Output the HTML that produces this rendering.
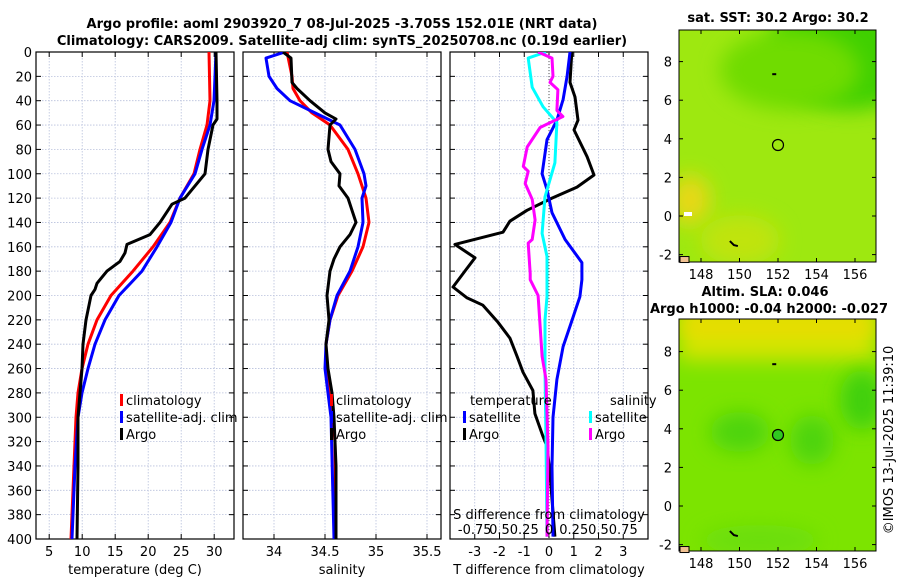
<!DOCTYPE html>
<html><head><meta charset="utf-8"><style>
html,body{margin:0;padding:0;background:#fff;}
svg{display:block;font-family:"DejaVu Sans","Liberation Sans",sans-serif;}
</style></head><body>
<svg id="fig" width="900" height="580" viewBox="0 0 900 580">
<defs>
<filter id="blur1" x="-50%" y="-50%" width="200%" height="200%"><feGaussianBlur stdDeviation="10"/></filter>
<clipPath id="c1"><rect x="36" y="52" width="198" height="487"/></clipPath>
<clipPath id="c2"><rect x="243" y="52" width="198" height="487"/></clipPath>
<clipPath id="c3"><rect x="450" y="52" width="198" height="487"/></clipPath>
<clipPath id="m1"><rect x="679" y="30" width="197" height="232"/></clipPath>
<clipPath id="m2"><rect x="679" y="319" width="197" height="232"/></clipPath>
</defs>
<text x="342" y="28" text-anchor="middle" font-size="13" font-weight="bold">Argo profile: aoml 2903920_7 08-Jul-2025 -3.705S 152.01E (NRT data)</text>
<text x="342" y="45" text-anchor="middle" font-size="13" font-weight="bold">Climatology: CARS2009. Satellite-adj clim: synTS_20250708.nc (0.19d earlier)</text>

<g clip-path="url(#m1)">
<rect x="679" y="30" width="197" height="232" fill="#9ee810"/>
<ellipse cx="850" cy="50" rx="80" ry="60" fill="#3fd000" filter="url(#blur1)"/>
<ellipse cx="790" cy="70" rx="70" ry="40" fill="#70dc04" filter="url(#blur1)"/>
<ellipse cx="690" cy="200" rx="20" ry="25" fill="#e8d818" filter="url(#blur1)"/>
<ellipse cx="740" cy="240" rx="40" ry="25" fill="#c0e408" filter="url(#blur1)"/>
<rect x="684" y="212" width="8" height="4" fill="#fff"/>
<circle cx="778" cy="145" r="5.5" fill="none" stroke="#000" stroke-width="1.2"/>
</g>
<rect x="679" y="30" width="197" height="232" fill="none" stroke="#000" stroke-width="1"/>
<text x="778" y="22" text-anchor="middle" font-size="13" font-weight="bold">sat. SST: 30.2 Argo: 30.2</text>

<g clip-path="url(#m2)">
<rect x="679" y="319" width="197" height="232" fill="#7ce400"/>
<rect x="679" y="300" width="197" height="60" fill="#d8e400" filter="url(#blur1)"/>
<rect x="679" y="319" width="197" height="14" fill="#f0d800" filter="url(#blur1)"/>
<ellipse cx="740" cy="432" rx="30" ry="20" fill="#4ed410" filter="url(#blur1)"/>
<ellipse cx="812" cy="440" rx="22" ry="25" fill="#4ed410" filter="url(#blur1)"/>
<ellipse cx="862" cy="400" rx="22" ry="30" fill="#40d010" filter="url(#blur1)"/>
<ellipse cx="760" cy="540" rx="60" ry="15" fill="#6ade08" filter="url(#blur1)"/>
<circle cx="778" cy="435" r="5.5" fill="#30c820" stroke="#000" stroke-width="1.2"/>
</g>
<rect x="679" y="319" width="197" height="232" fill="none" stroke="#000" stroke-width="1"/>
<text x="765" y="296" text-anchor="middle" font-size="13" font-weight="bold">Altim. SLA: 0.046</text>
<text x="769" y="313" text-anchor="middle" font-size="13" font-weight="bold">Argo h1000: -0.04 h2000: -0.027</text>
<text transform="translate(893,440) rotate(-90)" text-anchor="middle" font-size="13">©IMOS 13-Jul-2025 11:39:10</text>
<g id="dyn"></g>
</svg>
<script>
const depthTicks=[0,20,40,60,80,100,120,140,160,180,200,220,240,260,280,300,320,340,360,380,400];
const tTicks=[5,10,15,20,25,30];
const sTicks=[34,34.5,35,35.5];
const dTicks=[-3,-2,-1,0,1,2,3];
const sdTickLabels=["-0.75","0.5","0.25","0","0.25","0.5","0.75"];
const tClimDepth=[0,40,60,80,100,120,140,160,180,200,220,240,260,280,300,340,400];
const tClim=[29.21,29.36,28.91,27.85,26.94,24.82,23.30,20.73,17.70,14.36,12.24,10.88,9.97,9.36,9.06,8.76,8.30];
const tSat=[30.27,29.97,29.36,28.15,27.09,24.82,23.45,21.33,19.06,15.58,13.45,11.94,10.88,9.97,9.36,8.91,8.45];
const tArgoDepth=[0,40,55,60,80,100,110,120,125,130,140,150,158,165,172,180,190,195,200,220,240,260,280,300,340,400];
const tArgo=[30.27,30.42,30.42,29.82,29.06,28.61,27.09,25.58,23.61,23.0,21.79,20.27,16.79,16.48,15.73,13.76,12.24,11.94,11.33,10.58,10.12,9.97,9.67,9.36,9.36,9.21];
const sClimDepth=[0,20,30,40,50,60,80,100,120,140,160,180,200,220,240,260,280,300,320,400];
const sClim=[34.127,34.176,34.186,34.255,34.373,34.549,34.725,34.824,34.902,34.931,34.873,34.765,34.627,34.549,34.510,34.510,34.539,34.578,34.598,34.608];
const sSatDepth=[0,5,20,30,40,50,60,80,100,110,120,140,160,180,200,220,240,260,280,300,400];
const sSat=[34.108,33.922,33.951,34.029,34.157,34.402,34.647,34.794,34.882,34.902,34.863,34.873,34.824,34.745,34.618,34.549,34.510,34.500,34.529,34.559,34.588];
const sArgoDepth=[0,5,25,30,40,50,55,60,70,80,90,100,110,120,130,140,150,160,170,180,200,220,240,260,280,300,340,400];
const sArgo=[34.088,34.167,34.176,34.225,34.353,34.500,34.608,34.549,34.539,34.529,34.559,34.647,34.637,34.725,34.765,34.804,34.745,34.647,34.588,34.549,34.520,34.539,34.510,34.529,34.569,34.588,34.608,34.608];
const dtArgoDepth=[0,25,37,56,64,86,101,111,120,130,139,148,158,169,180,193,202,208,222,235,250,263,278,297,316,324,346,398];
const dtArgo=[0.92,0.85,1.05,1.17,1.01,1.54,1.82,1.13,0.12,-0.89,-1.58,-1.86,-3.80,-2.99,-3.40,-3.88,-3.31,-2.67,-2.06,-1.58,-1.29,-1.05,-0.65,-0.57,-0.24,-0.08,0.04,0.24];
const dtSatDepth=[0,20,39,56,72,100,113,132,154,173,187,201,218,242,269,300,341,398];
const dtSat=[0.85,0.73,0.57,0.32,-0.08,-0.28,-0.08,0.12,0.65,1.33,1.33,1.25,0.97,0.57,0.32,0.16,0.12,0.16];
const dsSatDepth=[0,5,29,45,58,91,119,149,168,187,201,220,261,319,398];
const dsSat=[-0.03,-0.21,-0.17,-0.06,0.08,0.06,-0.04,-0.07,-0.02,-0.02,-0.02,-0.04,-0.04,-0.03,-0.02];
const dsArgoDepth=[0,5,20,25,31,48,53,62,78,94,98,108,121,138,154,157,182,187,200,250,269,324,398];
const dsArgo=[-0.11,0.03,0.04,0.01,0.09,0.08,0.14,-0.09,-0.22,-0.26,-0.21,-0.24,-0.17,-0.14,-0.17,-0.21,-0.19,-0.19,-0.11,-0.07,-0.03,-0.01,-0.02];
const lonTicks=[148,150,152,154,156];
const latTicks=[-2,0,2,4,6,8];

const Y0=52,Y1=539;
const yD=d=>Y0+d/400*(Y1-Y0);
const xT=t=>36+(t-3)/30*198;
const xS=s=>274+(s-34)*102;
const xDT=t=>549+t*24.75;
const xDS=s=>549+s*99;
const lonX=l=>701+(l-148)*19.25;
const lat1=v=>216-v*19.3;
const lat2=v=>506-v*19.3;

const NS='http://www.w3.org/2000/svg';
const dyn=document.getElementById('dyn');
function mk(tag,attrs,parent){const e=document.createElementNS(NS,tag);for(const k in attrs)e.setAttribute(k,attrs[k]);(parent||dyn).appendChild(e);return e;}
function txt(x,y,s,size,anchor,parent){const e=mk('text',{x:x,y:y,'font-size':size,'text-anchor':anchor||'middle'},parent);e.textContent=s;return e;}

function panel(name,x0,xTicksVals,xf,labels,showDepth,xlabel){
  const g=mk('g',{});
  
  
  xTicksVals.forEach(v=>{const x=xf(v);mk('line',{x1:x,x2:x,y1:Y0,y2:Y1,stroke:'#b8c0dc','stroke-width':0.8,'stroke-dasharray':'1.5,1.5'},g);
    mk('line',{x1:x,x2:x,y1:Y1,y2:Y1-5,stroke:'#000','stroke-width':1},g);mk('line',{x1:x,x2:x,y1:Y0,y2:Y0+5,stroke:'#000','stroke-width':1},g);});
  depthTicks.forEach(d=>{const y=yD(d);mk('line',{x1:x0,x2:x0+198,y1:y,y2:y,stroke:'#b8c0dc','stroke-width':0.8,'stroke-dasharray':'1.5,1.5'},g);
    mk('line',{x1:x0,x2:x0+5,y1:y,y2:y,stroke:'#000'},g);mk('line',{x1:x0+198,x2:x0+193,y1:y,y2:y,stroke:'#000'},g);
    if(showDepth){const t=txt(x0-4,y+5,String(d),13,'end',g);}});
  mk('rect',{x:x0,y:Y0,width:198,height:Y1-Y0,fill:'none',stroke:'#000','stroke-width':1.2},g);
  xTicksVals.forEach((v,i)=>{const t=txt(xf(v),Y1+17,labels[i],13,'middle',g);});
  const xl=txt(x0+99,Y1+35,xlabel,13,'middle',g);
  
  
  return g;
}
function line(name,depths,vals,xf,color,clip){
  const pts=depths.map((d,i)=>xf(vals[i]).toFixed(1)+','+yD(d).toFixed(1)).join(' ');
  const p=mk('polyline',{points:pts,fill:'none',stroke:color,'stroke-width':3,'stroke-linejoin':'round','clip-path':'url(#'+clip+')'});
  
  
}
function legend(x,y,color,label,name){
  const g=mk('g',{});
  
  
  mk('rect',{x:x,y:y-11,width:3,height:12,fill:color},g);
  txt(x+6,y,label,13,'start',g);
}

panel('temperature-panel',36,tTicks,xT,tTicks.map(String),true,'temperature (deg C)');
line('temp-climatology',tClimDepth,tClim,xT,'#ff0000','c1');
line('temp-satellite-adj',tClimDepth,tSat,xT,'#0000ff','c1');
line('temp-argo',tArgoDepth,tArgo,xT,'#000000','c1');
legend(120,405,'#ff0000','climatology','legend-climatology-temp');
legend(120,422,'#0000ff','satellite-adj. clim','legend-satellite-temp');
legend(120,439,'#000000','Argo','legend-argo-temp');

panel('salinity-panel',243,sTicks,xS,sTicks.map(String),false,'salinity');
line('sal-climatology',sClimDepth,sClim,xS,'#ff0000','c2');
line('sal-satellite-adj',sSatDepth,sSat,xS,'#0000ff','c2');
line('sal-argo',sArgoDepth,sArgo,xS,'#000000','c2');
legend(330,405,'#ff0000','climatology','legend-climatology-sal');
legend(330,422,'#0000ff','satellite-adj. clim','legend-satellite-sal');
legend(330,439,'#000000','Argo','legend-argo-sal');

panel('difference-panel',450,dTicks,xDT,dTicks.map(String),false,'T difference from climatology');
mk('line',{x1:549,x2:549,y1:Y0,y2:Y1,stroke:'#555','stroke-width':1,'stroke-dasharray':'1,2'});
line('dt-argo',dtArgoDepth,dtArgo,xDT,'#000000','c3');
line('dt-satellite',dtSatDepth,dtSat,xDT,'#0000ff','c3');
line('ds-satellite',dsSatDepth,dsSat,xDS,'#00ffff','c3');
line('ds-argo',dsArgoDepth,dsArgo,xDS,'#ff00ff','c3');
txt(470,405,'temperature',13,'start');
txt(610,405,'salinity',13,'start');
legend(463,422,'#0000ff','satellite','legend-dt-satellite');
legend(463,439,'#000000','Argo','legend-dt-argo');
legend(589,422,'#00ffff','satellite','legend-ds-satellite');
legend(589,439,'#ff00ff','Argo','legend-ds-argo');
const sdl=txt(549,519,'S difference from climatology',13,'middle');


[-0.75,-0.5,-0.25,0,0.25,0.5,0.75].forEach((v,i)=>{const t=txt(xDS(v),534,sdTickLabels[i],13,'middle');});

[[lat1,30,262],[lat2,319,551]].forEach(([lf,top,bot])=>{
  latTicks.forEach(v=>{const y=lf(v);mk('line',{x1:876,x2:872,y1:y,y2:y,stroke:'#000'});mk('line',{x1:679,x2:683,y1:y,y2:y,stroke:'#000'});
    const t=txt(672,y+5,String(v),13,'end');});
  lonTicks.forEach(v=>{const x=lonX(v);mk('line',{x1:x,x2:x,y1:bot,y2:bot-4,stroke:'#000'});mk('line',{x1:x,x2:x,y1:top,y2:top+4,stroke:'#000'});
    const t=txt(x,bot+17,String(v),13,'middle');});
});
[[lat1],[lat2]].forEach(([lf])=>{
  mk('path',{d:`M${lonX(149.5)} ${lf(-1.3)} l4 4 l4 1`,stroke:'#000','stroke-width':2,fill:'none'});
  mk('rect',{x:680,y:lf(-2.1),width:9,height:6,fill:'#f0c090',stroke:'#000','stroke-width':1});
  mk('rect',{x:lonX(151.7),y:lf(7.4),width:4,height:2,fill:'#000'});
});
</script>
</body></html>
